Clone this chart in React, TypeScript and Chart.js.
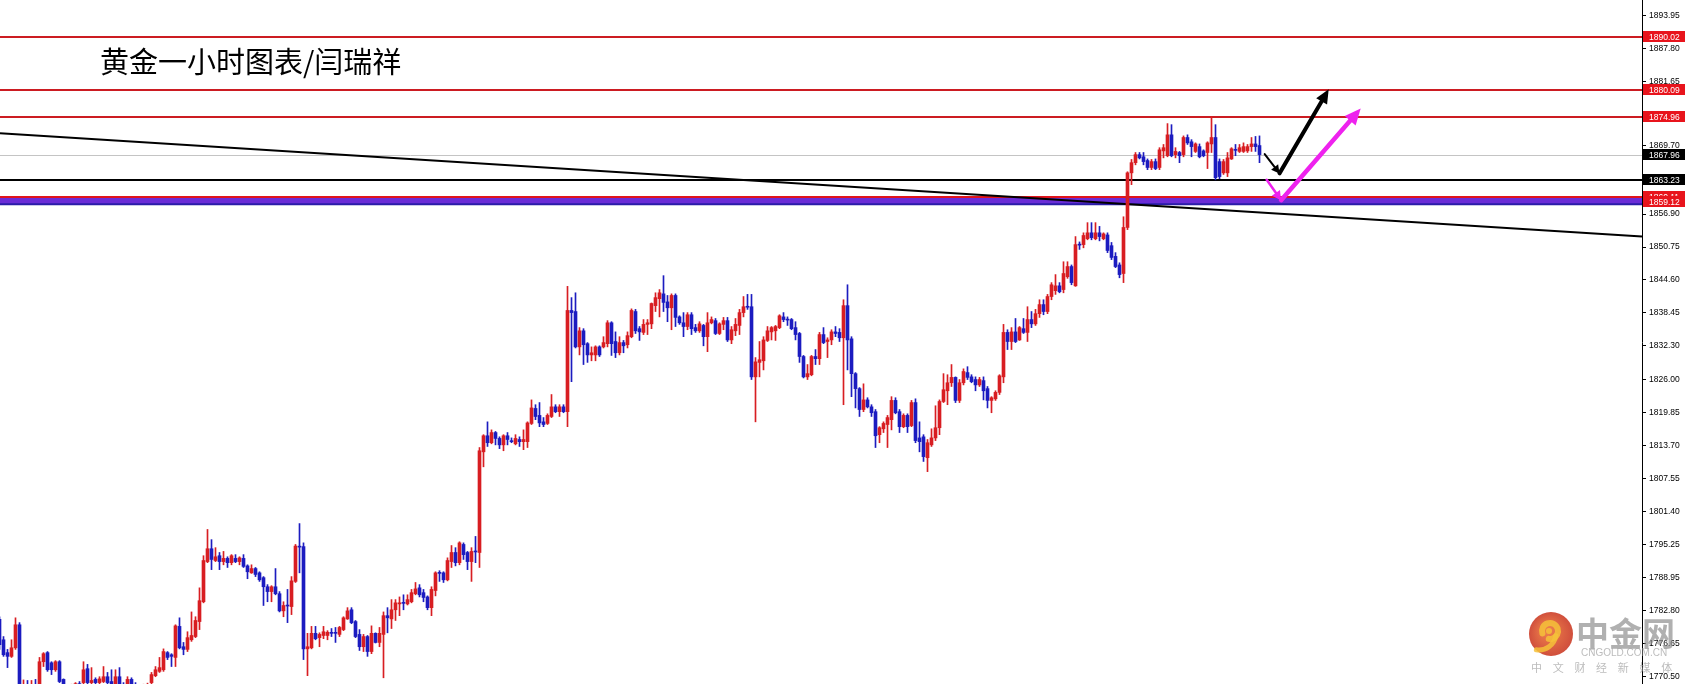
import React, { useEffect, useRef } from 'react';
import { Chart, registerables } from 'chart.js';

Chart.register(...registerables);

// ---- Candle data (XAUUSD H1) ----
const openPrices = [
  1781.2, 1777.4, 1775.0, 1774.3, 1775.9, 1780.2, 1768.1, 1768.8, 1768.3, 1768.9,
  1768.5, 1773.3, 1775.0, 1773.1, 1771.8, 1773.3, 1770.0, 1768.5, 1768.0, 1768.6,
  1769.2, 1769.4, 1772.0, 1769.4, 1770.0, 1769.4, 1769.6, 1770.5, 1769.6, 1769.2,
  1770.5, 1769.0, 1768.6, 1770.0, 1769.0, 1768.5, 1768.2, 1768.7, 1769.4, 1770.7,
  1771.5, 1771.8, 1775.0, 1774.6, 1774.1, 1779.9, 1776.1, 1775.6, 1777.4, 1778.0,
  1780.8, 1784.5, 1792.0, 1794.4, 1792.2, 1793.1, 1792.0, 1792.6, 1791.8, 1792.6,
  1792.0, 1792.6, 1791.2, 1789.9, 1790.7, 1789.9, 1789.0, 1787.3, 1786.4, 1787.3,
  1786.0, 1782.8, 1783.8, 1783.6, 1788.3, 1794.8, 1794.8, 1775.7, 1775.9, 1778.6,
  1777.8, 1778.2, 1778.2, 1778.7, 1778.7, 1778.4, 1779.3, 1781.3, 1783.0, 1780.8,
  1778.4, 1776.1, 1778.0, 1775.2, 1778.6, 1776.9, 1778.4, 1781.9, 1781.3, 1783.0,
  1784.1, 1784.3, 1784.1, 1784.5, 1786.0, 1787.1, 1786.2, 1785.4, 1783.4, 1786.6,
  1789.9, 1789.9, 1788.6, 1792.0, 1793.7, 1791.8, 1795.2, 1793.7, 1792.0, 1793.9,
  1793.7, 1812.5, 1815.5, 1814.2, 1816.1, 1815.0, 1813.8, 1815.5, 1814.5, 1814.0,
  1814.8, 1814.4, 1814.4, 1817.8, 1820.6, 1819.3, 1818.1, 1817.8, 1819.1, 1820.9,
  1820.0, 1820.9, 1820.0, 1838.9, 1838.7, 1832.1, 1835.1, 1832.7, 1830.6, 1830.6,
  1832.1, 1832.1, 1832.7, 1836.6, 1833.1, 1831.0, 1832.9, 1832.5, 1834.0, 1838.7,
  1835.5, 1834.8, 1836.3, 1836.4, 1839.8, 1841.1, 1842.0, 1840.5, 1839.4, 1841.7,
  1837.7, 1836.6, 1835.9, 1838.1, 1835.7, 1835.1, 1836.1, 1834.0, 1836.6, 1837.0,
  1834.6, 1836.3, 1837.0, 1833.4, 1835.1, 1836.1, 1838.5, 1839.6, 1839.6, 1826.5,
  1829.2, 1829.5, 1833.3, 1834.9, 1835.1, 1835.7, 1837.7, 1837.2, 1837.2, 1835.7,
  1834.6, 1830.3, 1826.5, 1826.9, 1830.3, 1829.9, 1834.4, 1833.1, 1833.4, 1834.9,
  1834.8, 1833.8, 1839.8, 1833.6, 1827.1, 1824.3, 1820.4, 1822.2, 1820.9, 1820.0,
  1815.7, 1816.8, 1817.6, 1818.5, 1822.1, 1820.0, 1817.2, 1819.3, 1817.4, 1821.7,
  1815.1, 1815.3, 1811.4, 1813.8, 1815.1, 1817.0, 1821.9, 1823.9, 1825.4, 1826.4,
  1822.1, 1825.4, 1827.3, 1826.5, 1826.0, 1825.0, 1825.8, 1824.3, 1822.1, 1822.4,
  1823.6, 1826.5, 1834.8, 1833.1, 1834.9, 1833.4, 1835.5, 1834.8, 1837.2, 1836.4,
  1838.3, 1840.0, 1838.7, 1841.5, 1842.6, 1843.5, 1842.8, 1845.2, 1847.1, 1843.5,
  1851.2, 1851.2, 1852.3, 1853.4, 1852.3, 1853.4, 1852.3, 1853.0, 1851.0, 1849.0,
  1847.4, 1845.8, 1854.4, 1864.6, 1866.5, 1868.0, 1867.6, 1866.9, 1865.6, 1866.7,
  1865.6, 1868.7, 1867.8, 1871.7, 1868.0, 1868.4, 1868.0, 1871.2, 1870.4, 1868.6,
  1869.5, 1868.7, 1868.4, 1870.0, 1871.2, 1866.7, 1864.6, 1864.6, 1867.2, 1868.9,
  1868.6, 1868.6, 1868.7, 1869.5, 1870.0, 1869.7,
];

const highPrices = [
  1781.7, 1778.0, 1775.6, 1777.4, 1781.5, 1780.6, 1769.9, 1769.8, 1769.8, 1770.0,
  1774.1, 1775.0, 1775.2, 1773.3, 1773.5, 1773.5, 1770.1, 1769.0, 1769.1, 1769.4,
  1769.6, 1773.3, 1772.8, 1772.2, 1770.3, 1770.5, 1772.4, 1771.3, 1771.8, 1771.8,
  1772.2, 1769.4, 1770.5, 1770.3, 1769.4, 1769.0, 1769.1, 1769.3, 1771.3, 1772.4,
  1774.1, 1775.7, 1775.2, 1774.8, 1780.2, 1781.5, 1776.9, 1778.9, 1782.6, 1781.7,
  1787.1, 1793.1, 1798.0, 1796.1, 1794.6, 1793.7, 1793.9, 1792.9, 1793.3, 1793.3,
  1792.9, 1793.3, 1791.4, 1791.4, 1790.9, 1790.1, 1789.2, 1787.7, 1787.5, 1790.7,
  1786.4, 1784.5, 1786.8, 1789.2, 1795.2, 1799.1, 1795.5, 1778.6, 1779.9, 1779.9,
  1778.7, 1779.9, 1779.1, 1779.5, 1779.7, 1779.9, 1781.7, 1783.4, 1783.4, 1781.0,
  1779.3, 1778.4, 1778.2, 1780.0, 1778.7, 1779.7, 1782.6, 1783.4, 1784.9, 1784.9,
  1785.4, 1785.8, 1785.8, 1786.8, 1788.1, 1787.7, 1786.8, 1785.6, 1787.3, 1790.1,
  1790.3, 1790.1, 1792.7, 1795.0, 1794.6, 1795.7, 1795.5, 1793.9, 1794.6, 1796.7,
  1813.3, 1815.7, 1818.1, 1816.6, 1816.3, 1815.3, 1815.7, 1816.1, 1815.1, 1815.7,
  1815.3, 1816.6, 1818.1, 1822.2, 1821.3, 1821.7, 1818.9, 1819.6, 1823.2, 1821.3,
  1821.3, 1821.3, 1843.4, 1841.3, 1842.2, 1835.7, 1835.5, 1832.9, 1832.1, 1832.3,
  1832.3, 1834.0, 1837.0, 1836.8, 1834.9, 1834.0, 1833.3, 1834.9, 1839.2, 1839.1,
  1835.9, 1837.2, 1837.2, 1840.3, 1842.2, 1842.8, 1845.4, 1841.7, 1842.0, 1842.0,
  1837.9, 1838.5, 1838.5, 1838.5, 1836.3, 1836.8, 1836.3, 1838.5, 1837.7, 1837.4,
  1836.6, 1837.6, 1837.6, 1835.9, 1837.4, 1839.1, 1841.5, 1841.9, 1841.9, 1830.1,
  1833.1, 1834.0, 1835.9, 1835.9, 1836.1, 1838.1, 1838.5, 1837.7, 1837.4, 1836.8,
  1834.8, 1830.5, 1828.8, 1830.5, 1831.6, 1834.8, 1835.7, 1833.8, 1835.3, 1835.9,
  1835.5, 1840.9, 1843.7, 1834.0, 1827.3, 1824.5, 1825.2, 1822.6, 1821.3, 1820.4,
  1817.2, 1818.1, 1819.3, 1822.8, 1822.6, 1820.4, 1819.6, 1819.6, 1822.1, 1822.4,
  1818.1, 1815.7, 1814.8, 1816.8, 1821.1, 1822.2, 1827.1, 1826.9, 1828.8, 1826.5,
  1826.0, 1828.0, 1828.4, 1826.9, 1826.5, 1826.4, 1826.5, 1824.7, 1822.8, 1823.9,
  1826.9, 1836.3, 1835.3, 1835.7, 1837.4, 1835.9, 1837.4, 1839.6, 1838.7, 1839.1,
  1840.9, 1840.9, 1841.9, 1844.1, 1845.6, 1844.1, 1848.0, 1848.0, 1847.4, 1852.7,
  1851.7, 1853.4, 1855.3, 1855.3, 1855.3, 1854.6, 1853.4, 1853.4, 1851.6, 1849.7,
  1847.8, 1856.4, 1864.8, 1867.1, 1868.4, 1868.4, 1868.4, 1867.2, 1867.1, 1867.2,
  1869.3, 1869.9, 1873.8, 1873.6, 1869.3, 1868.6, 1871.5, 1871.7, 1870.8, 1870.2,
  1870.0, 1868.9, 1870.4, 1875.1, 1873.6, 1867.2, 1867.1, 1868.4, 1869.3, 1869.9,
  1869.9, 1870.2, 1869.9, 1871.2, 1871.4, 1871.5,
];

const lowPrices = [
  1775.6, 1774.3, 1772.2, 1774.1, 1775.6, 1767.2, 1766.5, 1767.0, 1767.2, 1767.5,
  1768.0, 1772.4, 1771.5, 1770.9, 1771.5, 1769.4, 1767.5, 1767.0, 1767.2, 1767.8,
  1768.0, 1768.5, 1768.6, 1768.8, 1768.8, 1768.9, 1769.4, 1768.7, 1768.2, 1768.5,
  1768.2, 1767.6, 1768.2, 1768.4, 1767.8, 1767.3, 1767.4, 1768.0, 1768.8, 1770.5,
  1771.3, 1771.5, 1773.7, 1772.4, 1772.4, 1775.7, 1774.6, 1775.2, 1777.1, 1777.8,
  1779.3, 1784.3, 1791.8, 1790.5, 1792.0, 1790.5, 1791.4, 1790.9, 1791.4, 1791.8,
  1791.4, 1790.9, 1788.8, 1789.8, 1789.2, 1788.3, 1783.8, 1784.5, 1784.5, 1785.8,
  1782.6, 1781.7, 1780.6, 1782.1, 1788.1, 1789.9, 1773.7, 1770.7, 1775.7, 1777.4,
  1776.1, 1777.6, 1777.4, 1778.0, 1776.9, 1778.0, 1779.1, 1781.2, 1780.4, 1777.8,
  1775.4, 1775.2, 1774.3, 1774.8, 1776.8, 1776.1, 1770.3, 1778.7, 1779.5, 1781.0,
  1781.9, 1783.0, 1783.9, 1784.3, 1785.8, 1785.4, 1784.5, 1783.0, 1781.9, 1785.6,
  1788.3, 1788.1, 1788.4, 1790.9, 1791.2, 1791.4, 1792.4, 1790.5, 1788.3, 1791.8,
  1790.9, 1809.7, 1813.5, 1814.0, 1813.8, 1813.1, 1812.7, 1813.8, 1814.2, 1813.8,
  1813.5, 1812.9, 1813.3, 1817.6, 1818.5, 1817.2, 1817.2, 1817.6, 1818.9, 1819.8,
  1819.1, 1819.8, 1817.2, 1825.6, 1831.9, 1830.6, 1828.8, 1829.2, 1829.5, 1829.5,
  1830.3, 1831.9, 1832.1, 1830.5, 1830.1, 1830.6, 1831.0, 1831.9, 1833.8, 1834.6,
  1833.3, 1834.4, 1834.4, 1835.5, 1838.7, 1837.7, 1838.7, 1836.8, 1835.3, 1835.9,
  1836.3, 1834.0, 1835.3, 1834.4, 1834.8, 1834.8, 1832.3, 1831.2, 1836.4, 1834.4,
  1834.4, 1835.3, 1833.1, 1832.7, 1834.2, 1834.4, 1837.7, 1839.1, 1826.0, 1818.1,
  1826.5, 1827.8, 1833.1, 1833.4, 1833.3, 1835.5, 1836.8, 1836.1, 1835.3, 1833.4,
  1829.2, 1826.3, 1826.0, 1826.7, 1828.8, 1828.8, 1832.7, 1830.1, 1832.5, 1834.0,
  1833.1, 1821.3, 1827.8, 1822.8, 1820.7, 1819.1, 1820.0, 1820.7, 1819.1, 1813.3,
  1814.2, 1816.1, 1813.3, 1816.6, 1819.6, 1816.1, 1817.0, 1816.1, 1817.2, 1814.2,
  1812.5, 1810.7, 1808.8, 1813.5, 1814.6, 1815.7, 1821.7, 1821.3, 1824.7, 1821.7,
  1821.7, 1825.0, 1826.0, 1825.4, 1823.9, 1824.7, 1822.2, 1820.7, 1819.8, 1822.1,
  1823.2, 1825.4, 1831.6, 1831.6, 1832.9, 1833.3, 1834.6, 1833.1, 1835.7, 1836.1,
  1837.6, 1838.1, 1838.3, 1840.9, 1841.9, 1842.2, 1842.2, 1844.9, 1843.7, 1843.4,
  1850.3, 1850.6, 1852.1, 1852.1, 1852.1, 1851.9, 1852.1, 1849.7, 1848.4, 1846.9,
  1845.0, 1844.1, 1854.0, 1862.4, 1866.1, 1867.2, 1866.1, 1865.2, 1865.2, 1865.2,
  1865.2, 1867.4, 1867.6, 1867.6, 1867.4, 1866.5, 1867.6, 1869.9, 1867.6, 1868.4,
  1867.4, 1867.6, 1865.4, 1868.4, 1863.3, 1863.5, 1864.3, 1863.9, 1867.1, 1867.8,
  1868.4, 1868.4, 1868.4, 1868.6, 1868.6, 1866.5,
];

const closePrices = [
  1776.5, 1774.6, 1774.3, 1775.9, 1780.2, 1768.1, 1768.5, 1768.3, 1768.9, 1768.5,
  1773.3, 1774.8, 1771.8, 1771.8, 1773.3, 1769.6, 1768.5, 1768.0, 1768.6, 1769.2,
  1768.8, 1771.8, 1769.4, 1769.8, 1769.4, 1770.1, 1770.5, 1769.4, 1769.0, 1770.5,
  1769.0, 1768.6, 1770.0, 1769.0, 1768.5, 1768.2, 1768.7, 1769.0, 1770.9, 1771.8,
  1772.2, 1775.2, 1774.1, 1774.3, 1780.0, 1775.9, 1775.6, 1777.8, 1778.2, 1781.0,
  1784.7, 1792.2, 1794.4, 1792.4, 1792.9, 1792.0, 1792.6, 1791.8, 1793.1, 1792.0,
  1792.7, 1791.1, 1790.1, 1790.7, 1789.6, 1788.6, 1787.3, 1786.4, 1787.3, 1786.0,
  1782.8, 1783.8, 1783.7, 1788.4, 1794.9, 1794.7, 1775.7, 1776.1, 1778.6, 1777.6,
  1778.4, 1778.9, 1778.8, 1778.6, 1778.6, 1779.7, 1781.5, 1782.8, 1780.6, 1778.0,
  1776.1, 1778.0, 1775.2, 1778.6, 1776.9, 1778.6, 1781.9, 1781.5, 1783.0, 1784.3,
  1784.3, 1784.2, 1784.9, 1786.2, 1786.9, 1785.8, 1785.3, 1783.4, 1786.8, 1789.9,
  1789.8, 1788.6, 1792.2, 1793.7, 1791.8, 1795.5, 1793.3, 1792.0, 1793.9, 1793.8,
  1812.7, 1815.5, 1814.2, 1816.1, 1815.0, 1813.8, 1815.5, 1814.8, 1814.4, 1815.0,
  1814.4, 1814.8, 1817.9, 1820.7, 1819.1, 1817.9, 1817.6, 1819.3, 1820.9, 1820.0,
  1820.9, 1820.0, 1838.9, 1838.5, 1832.1, 1835.1, 1832.5, 1830.6, 1831.0, 1832.1,
  1830.6, 1832.9, 1836.6, 1832.7, 1831.0, 1832.9, 1832.3, 1834.2, 1838.9, 1835.1,
  1834.9, 1836.3, 1836.6, 1840.2, 1841.3, 1842.2, 1840.4, 1839.4, 1841.7, 1837.6,
  1836.6, 1835.9, 1838.1, 1835.5, 1835.1, 1836.4, 1834.0, 1836.6, 1837.2, 1834.6,
  1836.4, 1837.0, 1833.4, 1835.3, 1836.3, 1838.5, 1839.6, 1839.5, 1826.5, 1829.3,
  1829.7, 1833.4, 1835.1, 1835.7, 1835.9, 1837.9, 1837.2, 1837.1, 1835.5, 1834.4,
  1830.3, 1826.5, 1827.1, 1830.3, 1829.9, 1834.4, 1832.9, 1833.4, 1834.9, 1834.6,
  1833.8, 1839.8, 1833.4, 1827.1, 1824.3, 1820.4, 1822.2, 1820.9, 1819.8, 1815.5,
  1817.0, 1817.8, 1818.9, 1822.1, 1819.8, 1817.2, 1819.3, 1817.2, 1821.7, 1814.6,
  1814.4, 1811.6, 1814.2, 1815.1, 1817.0, 1821.9, 1824.1, 1825.4, 1826.4, 1822.1,
  1825.4, 1827.5, 1826.4, 1825.6, 1825.0, 1826.0, 1823.9, 1822.1, 1822.6, 1823.6,
  1826.7, 1834.8, 1833.1, 1834.9, 1833.1, 1835.7, 1834.8, 1837.2, 1836.4, 1838.3,
  1840.0, 1838.7, 1841.5, 1843.7, 1843.5, 1842.4, 1845.8, 1847.1, 1844.1, 1851.2,
  1851.1, 1852.9, 1853.4, 1852.5, 1853.4, 1852.7, 1853.2, 1850.1, 1848.8, 1847.1,
  1845.6, 1854.4, 1864.6, 1866.5, 1868.0, 1867.4, 1866.7, 1865.6, 1866.7, 1865.4,
  1868.9, 1869.3, 1871.7, 1867.8, 1868.6, 1867.8, 1871.2, 1870.2, 1869.5, 1870.0,
  1867.6, 1867.8, 1870.2, 1871.2, 1863.7, 1863.9, 1866.7, 1867.4, 1869.1, 1868.8,
  1869.3, 1869.5, 1869.5, 1870.0, 1869.5, 1868.0,
];

// ---- Axis ----
const priceAxisMin = 1769.14;
const priceAxisMax = 1896.88;
const barAxisMin = 0.125;
const barAxisMax = 410.625;
const yTickValues = [
  1893.95, 1887.8, 1881.65, 1869.7, 1856.9, 1850.75, 1844.6, 1838.45,
  1832.3, 1826.0, 1819.85, 1813.7, 1807.55, 1801.4, 1795.25, 1788.95, 1782.8, 1776.65, 1770.5,
];

// ---- Drawn objects ----
const redLevels = [1890.02, 1880.09, 1874.96];
const bidLevel = 1867.96;
const blackLevel = 1863.23;
const bandLevels = [1860.11, 1859.12];
const tagValues = [1890.02, 1880.09, 1874.96, 1867.96, 1863.23, 1860.11, 1859.12];
const tagColors = ['#e8141c', '#e8141c', '#e8141c', '#000000', '#000000', '#e8141c', '#e8141c'];
const trendLinePoints = [
  { x: 0.125, y: 1872.0 },
  { x: 410.625, y: 1852.7 },
];
const blackArrowPoints = [
  { x: 316.3, y: 1868.1 },
  { x: 320.0, y: 1864.5 },
  { x: 332.3, y: 1880.2 },
];
const magentaArrowPoints = [
  { x: 316.8, y: 1863.3 },
  { x: 320.4, y: 1859.5 },
  { x: 340.3, y: 1876.6 },
];
const titleText = '黄金一小时图表/闫瑞祥';
const logoName = '中金网';
const logoSite = 'CNGOLD.COM.CN';
const logoSlogan = ['中', '文', '财', '经', '新', '媒', '体'];

const UP_COLOR = '#d81e22';
const DOWN_COLOR = '#1c1cc0';

function drawHead(ctx: CanvasRenderingContext2D, fx: number, fy: number, tx: number, ty: number, len: number, half: number) {
  const a = Math.atan2(ty - fy, tx - fx);
  const bx = tx - len * Math.cos(a);
  const by = ty - len * Math.sin(a);
  ctx.beginPath();
  ctx.moveTo(tx, ty);
  ctx.lineTo(bx + half * Math.sin(a), by - half * Math.cos(a));
  ctx.lineTo(bx - half * Math.sin(a), by + half * Math.cos(a));
  ctx.closePath();
  ctx.fill();
}

const levelsPlugin = {
  id: 'levels',
  beforeDatasetsDraw(chart: any) {
    const { ctx, chartArea, scales } = chart;
    const ys = scales.y;
    const xs = scales.x;
    const L = chartArea.left;
    const R = chartArea.right;
    ctx.save();
    ctx.beginPath();
    ctx.rect(L, chartArea.top, R - L, chartArea.bottom - chartArea.top);
    ctx.clip();

    // grey bid line
    ctx.strokeStyle = '#c4c4c4';
    ctx.lineWidth = 1;
    const by = Math.round(ys.getPixelForValue(bidLevel)) + 0.5;
    ctx.beginPath(); ctx.moveTo(L, by); ctx.lineTo(R, by); ctx.stroke();

    // red levels
    ctx.strokeStyle = '#cc1c22';
    ctx.lineWidth = 2;
    redLevels.forEach((v) => {
      const y = Math.round(ys.getPixelForValue(v));
      ctx.beginPath(); ctx.moveTo(L, y); ctx.lineTo(R, y); ctx.stroke();
    });

    // black level
    ctx.strokeStyle = '#000000';
    ctx.lineWidth = 2;
    const ky = Math.round(ys.getPixelForValue(blackLevel));
    ctx.beginPath(); ctx.moveTo(L, ky); ctx.lineTo(R, ky); ctx.stroke();

    // purple band
    const t = ys.getPixelForValue(bandLevels[0]);
    const b = ys.getPixelForValue(bandLevels[1]);
    ctx.fillStyle = '#6a2cd6';
    ctx.fillRect(L, t, R - L, b - t + 2);
    ctx.strokeStyle = '#2a1ca8';
    ctx.lineWidth = 2;
    ctx.beginPath(); ctx.moveTo(L, b + 2); ctx.lineTo(R, b + 2); ctx.stroke();
    ctx.strokeStyle = '#e0141c';
    ctx.lineWidth = 2;
    ctx.beginPath(); ctx.moveTo(L, t); ctx.lineTo(R, t); ctx.stroke();

    // trend line
    ctx.strokeStyle = '#000000';
    ctx.lineWidth = 2;
    ctx.beginPath();
    ctx.moveTo(xs.getPixelForValue(trendLinePoints[0].x), ys.getPixelForValue(trendLinePoints[0].y));
    ctx.lineTo(xs.getPixelForValue(trendLinePoints[1].x), ys.getPixelForValue(trendLinePoints[1].y));
    ctx.stroke();
    ctx.restore();
  },
  afterDatasetsDraw(chart: any) {
    const { ctx, scales } = chart;
    const ys = scales.y;
    const xs = scales.x;
    const drawArrow = (pts: { x: number; y: number }[], color: string, w1: number, w2: number, h1: number, h2: number) => {
      const p = pts.map((q) => ({ x: xs.getPixelForValue(q.x), y: ys.getPixelForValue(q.y) }));
      ctx.save();
      ctx.strokeStyle = color;
      ctx.fillStyle = color;
      ctx.lineCap = 'round';
      ctx.lineWidth = w1;
      ctx.beginPath(); ctx.moveTo(p[0].x, p[0].y); ctx.lineTo(p[1].x, p[1].y); ctx.stroke();
      drawHead(ctx, p[0].x, p[0].y, p[1].x, p[1].y, h1, h1 * 0.55);
      ctx.lineWidth = w2;
      ctx.beginPath(); ctx.moveTo(p[1].x, p[1].y);
      const a = Math.atan2(p[2].y - p[1].y, p[2].x - p[1].x);
      ctx.lineTo(p[2].x - h2 * 0.7 * Math.cos(a), p[2].y - h2 * 0.7 * Math.sin(a));
      ctx.stroke();
      drawHead(ctx, p[1].x, p[1].y, p[2].x, p[2].y, h2, h2 * 0.45);
      ctx.restore();
    };
    drawArrow(blackArrowPoints, '#000000', 2, 4, 8, 14);
    drawArrow(magentaArrowPoints, '#ee22ee', 2.5, 4.5, 9, 16);
  },
  afterDraw(chart: any) {
    const { ctx, scales, width } = chart;
    const ys = scales.y;
    const axisLeft = ys.left;
    ctx.save();
    // price tags
    ctx.font = '8.5px "Liberation Sans", Arial, sans-serif';
    ctx.textBaseline = 'middle';
    ctx.textAlign = 'left';
    tagValues.forEach((v, i) => {
      const y = ys.getPixelForValue(v);
      ctx.fillStyle = tagColors[i];
      ctx.fillRect(axisLeft + 1, Math.round(y) - 6, width - axisLeft - 1, 11);
      ctx.fillStyle = '#ffffff';
      ctx.fillText(v.toFixed(2), axisLeft + 7, Math.round(y) + 0.5);
    });

    // title
    ctx.fillStyle = '#000000';
    ctx.textBaseline = 'alphabetic';
    ctx.font = '29px "Noto Sans CJK SC", sans-serif';
    ctx.fillText(titleText, 100, 73);

    // watermark logo
    ctx.globalAlpha = 0.85;
    const cx = 1551, cy = 634, r = 22;
    const g = ctx.createRadialGradient(cx - 4, cy - 4, 4, cx, cy, r);
    g.addColorStop(0, '#e8642a');
    g.addColorStop(1, '#c8301a');
    ctx.fillStyle = g;
    ctx.beginPath(); ctx.arc(cx, cy, r, 0, Math.PI * 2); ctx.fill();
    ctx.strokeStyle = '#f6c23a';
    ctx.lineCap = 'round';
    ctx.lineWidth = 6;
    ctx.beginPath(); ctx.arc(cx - 1, cy - 3, 8, Math.PI * 0.9, Math.PI * 2.55); ctx.stroke();
    ctx.lineWidth = 5;
    ctx.beginPath(); ctx.arc(cx - 12, cy - 1, 17, Math.PI * 0.05, Math.PI * 0.55); ctx.stroke();
    ctx.fillStyle = '#f6c23a';
    ctx.beginPath(); ctx.arc(cx - 2, cy - 3, 3, 0, Math.PI * 2); ctx.fill();

    ctx.globalAlpha = 0.7;
    ctx.fillStyle = '#8e8e8e';
    ctx.font = 'bold 33px "Noto Sans CJK SC", sans-serif';
    ctx.fillText(logoName, 1576, 646);
    ctx.fillStyle = '#a0a0a0';
    ctx.font = '10px "Liberation Sans", Arial, sans-serif';
    ctx.fillText(logoSite, 1581, 656);
    ctx.font = '11px "Noto Sans CJK SC", sans-serif';
    logoSlogan.forEach((ch, i) => {
      ctx.fillText(ch, 1531 + i * 21.7, 672);
    });
    ctx.restore();
  },
};

export default function App() {
  const canvasRef = useRef<HTMLCanvasElement | null>(null);

  useEffect(() => {
    document.body.style.margin = '0';
    const canvas = canvasRef.current;
    if (!canvas) return;

    const wickData = highPrices.map((h, i) => ({ x: i, y: [lowPrices[i], h] }));
    const bodyData = openPrices.map((o, i) => ({ x: i, y: [o, closePrices[i]] }));
    const colors = openPrices.map((o, i) => (closePrices[i] >= o ? UP_COLOR : DOWN_COLOR));

    const chart = new Chart(canvas, {
      type: 'bar',
      data: {
        datasets: [
          {
            data: wickData as any,
            backgroundColor: colors,
            barThickness: 1,
            grouped: false,
            borderWidth: 0,
            minBarLength: 1,
          } as any,
          {
            data: bodyData as any,
            backgroundColor: colors,
            barThickness: 3,
            grouped: false,
            borderWidth: 0,
            minBarLength: 1,
          } as any,
        ],
      },
      options: {
        responsive: false,
        animation: false,
        events: [],
        layout: { padding: 0 },
        plugins: {
          legend: { display: false },
          tooltip: { enabled: false },
          title: { display: false },
        },
        scales: {
          x: {
            type: 'linear',
            display: false,
            min: barAxisMin,
            max: barAxisMax,
            offset: false,
          },
          y: {
            type: 'linear',
            position: 'right',
            min: priceAxisMin,
            max: priceAxisMax,
            border: { display: true, color: '#000000', width: 1 },
            grid: {
              drawOnChartArea: false,
              drawTicks: true,
              tickLength: 4,
              tickColor: '#000000',
              tickWidth: 1,
            },
            ticks: {
              color: '#000000',
              padding: 3,
              font: { family: '"Liberation Sans", Arial, sans-serif', size: 8.5 },
              callback: (v: any) => Number(v).toFixed(2),
            },
            afterBuildTicks: (scale: any) => {
              scale.ticks = yTickValues.map((v) => ({ value: v }));
            },
            afterFit: (scale: any) => {
              scale.width = 43;
              scale.paddingTop = 0;
              scale.paddingBottom = 0;
            },
          } as any,
        },
      },
      plugins: [levelsPlugin],
    });

    return () => {
      chart.destroy();
    };
  }, []);

  return (
    <div style={{ width: 1685, height: 684, background: '#ffffff' }}>
      <canvas ref={canvasRef} width={1685} height={684} style={{ display: 'block' }} />
    </div>
  );
}
